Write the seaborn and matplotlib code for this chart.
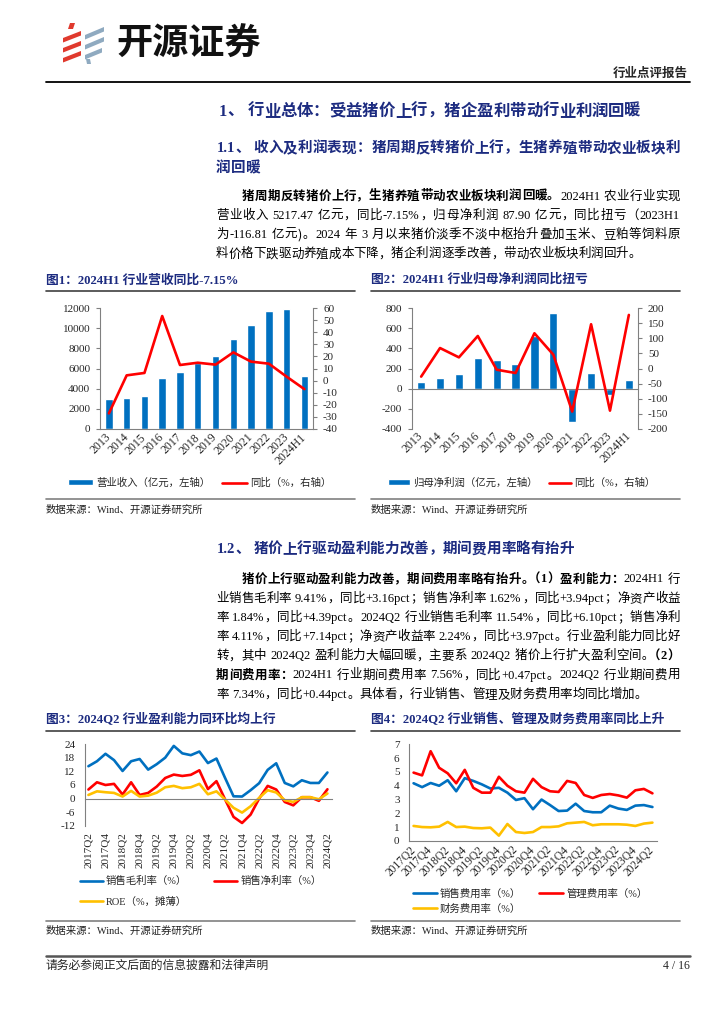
import re
import numpy as np
import pandas as pd
import matplotlib
matplotlib.use('Agg')
import matplotlib.pyplot as plt
import matplotlib.transforms as mtransforms
from matplotlib.lines import Line2D
from matplotlib.patches import Patch, Polygon
import seaborn as sns

# ---------------- data ----------------
years = ['2013', '2014', '2015', '2016', '2017', '2018', '2019', '2020',
         '2021', '2022', '2023', '2024H1']
revenue = [2980, 3090, 3260, 5050, 5680, 6550, 7280, 8940, 10340, 11730, 11950, 5217.47]
revenue_yoy = [-27.3, 4.3, 6.3, 53.6, 12.9, 14.8, 13.2, 23.4, 15.7, 14.0, 3.2, -7.15]
profit = [63, 110, 150, 309, 289, 243, 525, 751, -329, 156, -63, 87.90]
profit_yoy = [-27, 68, 37, 108, -4, -15, 117, 46, -143, 147, -140, 178]

quarters = ['2017Q2', '2017Q3', '2017Q4'] + \
    [f'{y}Q{q}' for y in range(2018, 2024) for q in range(1, 5)] + ['2024Q1', '2024Q2']
gross_margin = [14.3, 16.5, 19.8, 17.0, 12.2, 16.5, 17.5, 12.8, 15.2, 18.1, 23.3, 20.0,
                19.2, 20.8, 15.7, 17.7, 9.2, 1.0, 0.9, 3.7, 6.8, 12.7, 15.6, 6.9, 5.4,
                8.1, 6.9, 6.9, 11.54]
net_margin = [4.0, 7.2, 6.0, 6.5, 1.8, 7.2, 1.6, 2.5, 5.3, 9.1, 10.6, 10.0, 10.5, 12.5,
              4.2, 7.7, -0.3, -8.1, -10.8, -7.1, 0.0, 5.6, 4.0, -1.5, -3.0, 0.6, 0.6,
              -1.0, 4.11]
roe = [1.6, 3.2, 2.8, 2.5, 0.9, 3.4, 0.9, 1.3, 2.6, 5.0, 5.6, 4.6, 5.0, 6.5, 1.9, 3.2,
       -0.4, -4.1, -6.2, -3.4, 0.3, 3.7, 2.7, -0.7, -1.5, 0.6, 0.6, -0.3, 2.24]
sales_exp = [4.18, 3.9, 4.2, 4.0, 4.4, 3.6, 4.55, 4.35, 4.1, 3.8, 3.85, 3.5, 2.97, 3.1,
             2.3, 3.0, 2.6, 2.17, 2.2, 2.7, 2.17, 2.08, 2.08, 2.56, 2.35, 2.25, 2.56,
             2.6, 2.46]
admin_exp = [4.95, 4.75, 6.5, 5.3, 4.9, 4.18, 5.15, 3.85, 3.5, 3.5, 4.65, 4.0, 3.6, 3.5,
             4.5, 3.9, 3.6, 3.55, 4.35, 4.2, 3.33, 3.12, 3.33, 3.4, 3.3, 3.14, 3.67,
             3.77, 3.45]
fin_exp = [1.09, 1.01, 0.99, 1.04, 1.38, 1.01, 1.04, 0.94, 0.92, 0.97, 0.39, 1.23, 0.65,
           0.58, 0.65, 1.01, 1.01, 1.06, 1.28, 1.33, 1.38, 1.14, 1.21, 1.21, 1.21, 1.18,
           1.09, 1.26, 1.33]

# ---------------- style ----------------
sns.set_style('white')
FAM = ['Liberation Serif', 'Noto Sans CJK SC']
CJK = ['Noto Sans CJK SC']
plt.rcParams['font.family'] = FAM
plt.rcParams['axes.unicode_minus'] = False

BLUE = '#0070C0'
RED = '#FF0000'
YELLOW = '#FFC000'
GRAY = '#808080'
NAVY = '#1C2B80'
TICK_FS = 8
W, H = 724, 1024

fig = plt.figure(figsize=(W / 100, H / 100), dpi=100)
renderer = fig.canvas.get_renderer()


def fx(x):
    return x / W


def fy(y):
    return 1 - y / H


def px_axes(l, t, r, b):
    return fig.add_axes([fx(l), fy(b), (r - l) / W, (b - t) / H])


def hline(y, x0, x1, color='black', lw=1.0):
    fig.add_artist(Line2D([fx(x0), fx(x1)], [fy(y), fy(y)], color=color, lw=lw))


# does the text box follow glyph advances (full em for CJK punctuation)?
_probe = fig.text(0, 0, '（', fontsize=20, family=CJK)
ADV_BOX = _probe.get_window_extent(renderer).width > 0.8 * 20 * 100 / 72
_probe.remove()

LEFT_P = set('，。、；：）')
RIGHT_P = set('（')
PUNCT = LEFT_P | RIGHT_P
HALF = {'。': '｡', '、': '､', '）': ')'}


def draw_line(segs, x0, y, x1=None, size=9.0, color='black'):
    # segs: list of (text, bold); y = line centre in px; justify to x1 if given
    em = size * 100 / 72
    base = fy(y + 0.36 * em)
    items = []
    for s, bold in segs:
        for tok in re.findall(r' |[!-~]+|.', s):
            items.append((tok, bold))
    widths, arts, modes = [], [], []
    for k, (tok, bold) in enumerate(items):
        wt = 'bold' if bold else 'normal'
        if tok == ' ':
            widths.append(0.25 * em)
            arts.append(None)
            modes.append('sp')
        elif ord(tok[0]) < 128:
            t = fig.text(0, base, tok, fontsize=size, family=FAM, fontweight=wt,
                         color=color, ha='left', va='baseline')
            widths.append(t.get_window_extent(renderer).width + 0.04 * em)
            arts.append(t)
            modes.append('ascii')
        else:
            squeeze = (tok in HALF and k + 1 < len(items) and items[k + 1][0] in PUNCT)
            glyph = HALF[tok] if squeeze else tok
            if ADV_BOX:
                ha = 'left'
            elif tok in LEFT_P:
                ha = 'left'
            elif tok in RIGHT_P:
                ha = 'right'
            else:
                ha = 'center'
            t = fig.text(0, base, glyph, fontsize=size, family=CJK, fontweight=wt,
                         color=color, ha=ha, va='baseline')
            if squeeze:
                w = t.get_window_extent(renderer).width if ADV_BOX else 0.5 * em
                w = max(w, 0.4 * em)
            else:
                w = em
            widths.append(w)
            arts.append(t)
            modes.append('cjk')
    gap = 0
    if x1 is not None and len(items) > 1:
        gap = max((x1 - x0 - sum(widths)) / (len(items) - 1), 0)
    x = x0
    for t, w, m in zip(arts, widths, modes):
        if t is not None:
            ha = t.get_ha()
            if m == 'ascii':
                t.set_x(fx(x + 0.02 * em))
            elif ADV_BOX or ha == 'left':
                t.set_x(fx(x + (0 if ADV_BOX else 0.08 * em)))
            elif ha == 'center':
                t.set_x(fx(x + w / 2))
            else:
                t.set_x(fx(x + w - 0.1 * em))
        x += w + gap


# ---------------- header ----------------
red_logo = [[(70, 23), (75, 23), (73, 29), (68, 29)],
            [(63, 38), (81, 31), (81, 35.5), (63, 42.5)],
            [(63, 48), (81, 41), (81, 45.5), (63, 52.5)],
            [(63, 58), (81, 51), (81, 55.5), (63, 62.5)]]
blue_logo = [[(85, 35), (104, 27), (104, 31.5), (85, 39.5)],
             [(85, 45), (104, 37), (104, 41.5), (85, 49.5)],
             [(85, 55), (102, 48), (102, 52.5), (85, 59.5)],
             [(86, 59), (90, 59), (91, 64), (87, 64)]]
for shape, col in [(p, '#E03A2E') for p in red_logo] + [(p, '#8FAAC0') for p in blue_logo]:
    fig.add_artist(Polygon([(fx(a), fy(b)) for a, b in shape], closed=True,
                           facecolor=col, edgecolor='none', transform=fig.transFigure))
fig.text(fx(116), fy(44), '开源证券', fontsize=26, fontweight='bold',
         family=CJK, ha='left', va='center', color='#111111')
fig.text(fx(688), fy(73), '行业点评报告', fontsize=9, fontweight='bold',
         family=CJK, ha='right', va='center')
hline(82, 46, 690, 'black', 1.3)

# ---------------- section 1 text ----------------
draw_line([('1、 行业总体：受益猪价上行，猪企盈利带动行业利润回暖', True)], 218, 110,
          size=11.8, color=NAVY)
draw_line([('1.1、 收入及利润表现：猪周期反转猪价上行，生猪养殖带动农业板块利', True)],
          216, 147, 680, size=10.5, color=NAVY)
draw_line([('润回暖', True)], 216, 167, size=10.5, color=NAVY)

para1 = [
    ([('猪周期反转猪价上行，生猪养殖带动农业板块利润回暖。', True),
      ('2024H1 农业行业实现', False)], 242, True),
    ([('营业收入 5217.47 亿元，同比-7.15%，归母净利润 87.90 亿元，同比扭亏（2023H1', False)], 216, True),
    ([('为-116.81 亿元）。2024 年 3 月以来猪价淡季不淡中枢抬升叠加玉米、豆粕等饲料原', False)], 216, True),
    ([('料价格下跌驱动养殖成本下降，猪企利润逐季改善，带动农业板块利润回升。', False)], 216, False),
]
for i, (segs, x0, just) in enumerate(para1):
    draw_line(segs, x0, 195 + i * 19.3, 680 if just else None)

# ---------------- chart titles row 1 ----------------
fig.text(fx(46), fy(280), '图1：2024H1 行业营收同比-7.15%', fontsize=9.2,
         fontweight='bold', color=NAVY, ha='left', va='center')
fig.text(fx(371), fy(280), '图2：2024H1 行业归母净利润同比扭亏', fontsize=9.2,
         fontweight='bold', color=NAVY, ha='left', va='center')
hline(291, 46, 355, '#404040', 1.2)
hline(291, 371, 680, '#404040', 1.2)


def style_ticks(ax, side):
    ax.tick_params(axis='y', which='both', labelsize=TICK_FS, length=3, width=0.8,
                   color=GRAY, pad=4, direction='out')
    for s in ['top', 'left', 'right', 'bottom']:
        ax.spines[s].set_visible(False)
    for s in side:
        ax.spines[s].set_visible(True)
        ax.spines[s].set_color(GRAY)
        ax.spines[s].set_linewidth(0.8)
    ax.set_xlabel('')
    ax.set_ylabel('')


def rot45(ax, labels, dx=3, fs=TICK_FS):
    ax.set_xticklabels(labels, rotation=45, ha='right', va='center',
                       rotation_mode='anchor', fontsize=fs)
    off = mtransforms.ScaledTranslation(dx / 100, 0, fig.dpi_scale_trans)
    for lab in ax.get_xticklabels():
        lab.set_transform(lab.get_transform() + off)


# chart 1
ax1 = px_axes(100, 308.3, 313.3, 428.7)
sns.barplot(x=years, y=revenue, ax=ax1, color=BLUE, width=0.42, saturation=1)
ax1b = ax1.twinx()
sns.lineplot(x=np.arange(len(years)), y=revenue_yoy, ax=ax1b, color=RED, linewidth=1.9)
ax1.set_ylim(0, 12000)
ax1.set_yticks(range(0, 12001, 2000))
ax1b.set_ylim(-40, 60)
ax1b.set_yticks(range(-40, 61, 10))
style_ticks(ax1, ['left', 'bottom'])
style_ticks(ax1b, ['right'])
ax1.set_xticks(range(len(years)))
rot45(ax1, years, 3, 8.5)
ax1.tick_params(axis='x', length=0, pad=5)
ax1.set_xlim(-0.5, len(years) - 0.5)

# chart 2
ax2 = px_axes(411.7, 308.3, 638.3, 428.7)
sns.barplot(x=years, y=profit, ax=ax2, color=BLUE, width=0.44, saturation=1)
ax2b = ax2.twinx()
sns.lineplot(x=np.arange(len(years)), y=profit_yoy, ax=ax2b, color=RED, linewidth=1.9)
ax2.set_ylim(-400, 800)
ax2.set_yticks(range(-400, 801, 200))
ax2b.set_ylim(-200, 200)
ax2b.set_yticks(range(-200, 201, 50))
style_ticks(ax2, ['left', 'bottom'])
style_ticks(ax2b, ['right'])
ax2.spines['bottom'].set_position(('data', 0))
ax2.set_xticks(range(len(years)))
rot45(ax2, years, 3, 8.5)
ax2.tick_params(axis='x', length=0, pad=33)
ax2.set_xlim(-0.5, len(years) - 0.5)

# legends row 1
fig.legend(handles=[Patch(facecolor=BLUE, label='营业收入（亿元，左轴）'),
                    Line2D([], [], color=RED, lw=1.9, label='同比（%，右轴）')],
           loc='center left', bbox_to_anchor=(fx(68), fy(483)), ncol=2, frameon=False,
           fontsize=7.5, handlelength=2.4, handleheight=0.5, handletextpad=0.3,
           columnspacing=1.1, borderpad=0, borderaxespad=0)
fig.legend(handles=[Patch(facecolor=BLUE, label='归母净利润（亿元，左轴）'),
                    Line2D([], [], color=RED, lw=1.9, label='同比（%，右轴）')],
           loc='center left', bbox_to_anchor=(fx(388), fy(483)), ncol=2, frameon=False,
           fontsize=7.5, handlelength=2.1, handleheight=0.5, handletextpad=0.3,
           columnspacing=1.1, borderpad=0, borderaxespad=0)

hline(499, 46, 355, GRAY, 1.2)
hline(499, 371, 680, GRAY, 1.2)
fig.text(fx(46), fy(510), '数据来源：Wind、开源证券研究所', fontsize=7.5,
         color='#222222', ha='left', va='center')
fig.text(fx(371), fy(510), '数据来源：Wind、开源证券研究所', fontsize=7.5,
         color='#222222', ha='left', va='center')

# ---------------- section 1.2 text ----------------
draw_line([('1.2、 猪价上行驱动盈利能力改善，期间费用率略有抬升', True)], 216, 548,
          size=10.5, color=NAVY)
para2 = [
    ([('猪价上行驱动盈利能力改善，期间费用率略有抬升。（1）盈利能力：', True),
      ('2024H1 行', False)], 242, True),
    ([('业销售毛利率 9.41%，同比+3.16pct；销售净利率 1.62%，同比+3.94pct；净资产收益', False)], 216, True),
    ([('率 1.84%，同比+4.39pct。2024Q2 行业销售毛利率 11.54%，同比+6.10pct；销售净利', False)], 216, True),
    ([('率 4.11%，同比+7.14pct；净资产收益率 2.24%，同比+3.97pct。行业盈利能力同比好', False)], 216, True),
    ([('转，其中 2024Q2 盈利能力大幅回暖，主要系 2024Q2 猪价上行扩大盈利空间。', False),
      ('（2）', True)], 216, True),
    ([('期间费用率：', True),
      ('2024H1 行业期间费用率 7.56%，同比+0.47pct。2024Q2 行业期间费用', False)], 216, True),
    ([('率 7.34%，同比+0.44pct。具体看，行业销售、管理及财务费用率均同比增加。', False)], 216, False),
]
for i, (segs, x0, just) in enumerate(para2):
    draw_line(segs, x0, 578 + i * 19.2, 680 if just else None)

# ---------------- chart titles row 2 ----------------
fig.text(fx(46), fy(720), '图3：2024Q2 行业盈利能力同环比均上行', fontsize=9.2,
         fontweight='bold', color=NAVY, ha='left', va='center')
fig.text(fx(371), fy(720), '图4：2024Q2 行业销售、管理及财务费用率同比上升', fontsize=9.2,
         fontweight='bold', color=NAVY, ha='left', va='center')
hline(731, 46, 355, '#404040', 1.2)
hline(731, 371, 680, '#404040', 1.2)

pos = np.arange(len(quarters))
minor_pos = np.arange(3.5, len(quarters), 4)

# chart 3
ax3 = px_axes(85, 744.3, 331.7, 825.7)
df3 = pd.DataFrame({'pos': pos, '销售毛利率（%）': gross_margin,
                    '销售净利率（%）': net_margin, 'ROE（%，摊薄）': roe})
df3 = df3.melt(id_vars='pos', var_name='series', value_name='val')
sns.lineplot(data=df3, x='pos', y='val', hue='series', palette=[BLUE, RED, YELLOW],
             linewidth=1.9, ax=ax3, legend=False)
ax3.set_ylim(-12, 24)
ax3.set_yticks(range(-12, 25, 6))
ax3.set_xlim(-0.4, len(quarters) - 0.5)
style_ticks(ax3, ['left', 'bottom'])
ax3.spines['bottom'].set_position(('data', 0))
ax3.set_xticks(pos[::2])
ax3.set_xticklabels(quarters[::2], rotation=90, ha='center', va='top', fontsize=TICK_FS)
ax3.set_xticks(minor_pos, minor=True)
ax3.tick_params(axis='x', which='major', length=0, pad=24)
ax3.tick_params(axis='x', which='minor', length=3, direction='in', color=GRAY, width=0.8)

# chart 4
ax4 = px_axes(409.3, 744.3, 656.7, 841)
df4 = pd.DataFrame({'pos': pos, '销售费用率（%）': sales_exp,
                    '管理费用率（%）': admin_exp, '财务费用率（%）': fin_exp})
df4 = df4.melt(id_vars='pos', var_name='series', value_name='val')
sns.lineplot(data=df4, x='pos', y='val', hue='series', palette=[BLUE, RED, YELLOW],
             linewidth=1.9, ax=ax4, legend=False)
ax4.set_ylim(0, 7)
ax4.set_yticks(range(0, 8))
ax4.set_xlim(-0.5, len(quarters) - 0.5)
style_ticks(ax4, ['left', 'bottom'])
ax4.set_xticks(pos[::2])
rot45(ax4, quarters[::2], 3, 8.3)
ax4.set_xticks(minor_pos, minor=True)
ax4.tick_params(axis='x', which='major', length=0, pad=5)
ax4.tick_params(axis='x', which='minor', length=3, direction='out', color=GRAY, width=0.8)

# legends row 2
fig.legend(handles=[Line2D([], [], color=BLUE, lw=1.9, label='销售毛利率（%）'),
                    Line2D([], [], color=YELLOW, lw=1.9, label='ROE（%，摊薄）'),
                    Line2D([], [], color=RED, lw=1.9, label='销售净利率（%）')],
           loc='center left', bbox_to_anchor=(fx(80), fy(891.5)), ncol=2, frameon=False,
           fontsize=7.5, handlelength=2.2, handletextpad=0.3, columnspacing=2.6,
           labelspacing=1.0, borderpad=0, borderaxespad=0)
fig.legend(handles=[Line2D([], [], color=BLUE, lw=1.9, label='销售费用率（%）'),
                    Line2D([], [], color=YELLOW, lw=1.9, label='财务费用率（%）'),
                    Line2D([], [], color=RED, lw=1.9, label='管理费用率（%）')],
           loc='center left', bbox_to_anchor=(fx(413), fy(901)), ncol=2, frameon=False,
           fontsize=7.5, handlelength=2.3, handletextpad=0.3, columnspacing=1.7,
           labelspacing=0.45, borderpad=0, borderaxespad=0)

hline(921, 46, 355, GRAY, 1.2)
hline(921, 371, 680, GRAY, 1.2)
fig.text(fx(46), fy(931), '数据来源：Wind、开源证券研究所', fontsize=7.5,
         color='#222222', ha='left', va='center')
fig.text(fx(371), fy(931), '数据来源：Wind、开源证券研究所', fontsize=7.5,
         color='#222222', ha='left', va='center')

# ---------------- footer ----------------
hline(956, 46, 690, '#555555', 1.8)
fig.text(fx(46), fy(966), '请务必参阅正文后面的信息披露和法律声明', fontsize=8.5,
         ha='left', va='center')
fig.text(fx(690), fy(966), '4 / 16', fontsize=8.5, ha='right', va='center')

fig.savefig('out.png', dpi=100, facecolor='white')
